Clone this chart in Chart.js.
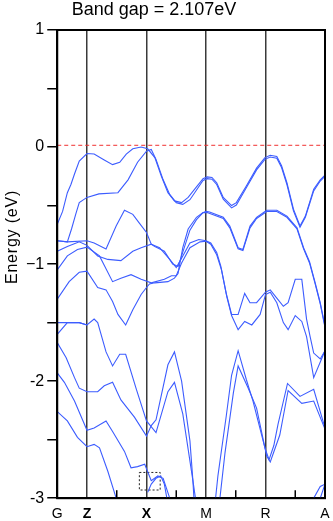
<!DOCTYPE html>
<html>
<head>
<meta charset="utf-8">
<script src="https://cdn.jsdelivr.net/npm/chart.js@4.4.0/dist/chart.umd.min.js"></script>
<style>
  html, body { margin: 0; padding: 0; background: #fff; }
  canvas { display: block; }
</style>
</head>
<body>
<canvas id="bandas" width="333" height="521"></canvas>
<script>
// Ejes: puntos k de alta simetría y energías
const kTicks = [0, 0.5, 1, 1.5, 2, 2.5, 3, 3.5, 4, 4.5];
const kLabels = ['G', 'Z', '', 'X', '', 'M', '', 'R', '', 'A'];
const kBold = ['Z', 'X'];
const eTicks = [1, 0.5, 0, -0.5, -1, -1.5, -2, -2.5, -3];
const eLabels = ['1', '', '0', '', '\u22121', '', '-2', '', '-3'];
const titulo = 'Band gap = 2.107eV';
const tituloY = 'Energy (eV)';
const fermi = 0.015;
const cajaK = [1.38, 1.73];
const cajaE = [-2.78, -2.93];

// Bandas [k, E]
const vb1 = [[0,-0.66],[0.09,-0.55],[0.17,-0.39],[0.23,-0.32],[0.29,-0.23],[0.37,-0.12],[0.5,-0.055],[0.62,-0.06],[0.79,-0.11],[0.93,-0.15],[1.05,-0.13],[1.16,-0.06],[1.27,-0.015],[1.41,0],[1.52,-0.015],[1.64,-0.09],[1.75,-0.25],[1.86,-0.39],[1.97,-0.46],[2.09,-0.475],[2.2,-0.43],[2.31,-0.36],[2.45,-0.27],[2.52,-0.255],[2.6,-0.26],[2.68,-0.305],[2.79,-0.43],[2.93,-0.5],[3.01,-0.475],[3.18,-0.33],[3.35,-0.18],[3.49,-0.09],[3.58,-0.07],[3.69,-0.08],[3.77,-0.16],[3.86,-0.305],[3.97,-0.53],[4.08,-0.675],[4.17,-0.59],[4.31,-0.36],[4.42,-0.28],[4.5,-0.24]];
const vb2 = [[0,-0.8],[0.17,-0.81],[0.24,-0.7],[0.31,-0.575],[0.37,-0.475],[0.5,-0.43],[0.7,-0.4],[1.02,-0.39],[1.19,-0.28],[1.35,-0.13],[1.5,-0.035],[1.58,-0.02],[1.66,-0.105],[1.78,-0.28],[1.89,-0.405],[2,-0.475],[2.11,-0.49],[2.23,-0.45],[2.31,-0.39],[2.45,-0.285],[2.52,-0.27],[2.6,-0.275],[2.68,-0.32],[2.79,-0.445],[2.93,-0.52],[3.01,-0.495],[3.18,-0.345],[3.35,-0.195],[3.49,-0.105],[3.58,-0.085],[3.69,-0.095],[3.77,-0.175],[3.86,-0.32],[3.97,-0.545],[4.08,-0.685],[4.17,-0.6],[4.31,-0.375],[4.42,-0.29],[4.5,-0.25]];
const b3 = [[0,-0.8],[0.17,-0.81],[0.5,-0.8],[0.62,-0.82],[0.82,-0.87],[0.99,-0.675],[1.13,-0.54],[1.27,-0.575],[1.38,-0.65],[1.5,-0.73],[1.58,-0.83],[1.72,-0.86],[1.89,-0.96],[2,-1.03],[2.09,-0.95],[2.23,-0.82],[2.38,-0.79],[2.5,-0.8],[2.58,-0.82],[2.68,-0.9],[2.75,-1.02],[2.84,-1.25],[2.93,-1.43],[3.04,-1.43],[3.15,-1.25],[3.24,-1.33],[3.35,-1.33],[3.5,-1.24],[3.58,-1.22],[3.69,-1.29],[3.8,-1.36],[3.88,-1.33],[4,-1.13],[4.11,-1.13],[4.19,-1.47],[4.25,-1.62],[4.31,-1.76],[4.42,-1.81],[4.5,-1.74]];
const b4 = [[0,-0.89],[0.17,-0.85],[0.37,-0.81],[0.5,-0.84],[0.68,-0.93],[0.85,-0.96],[1.07,-0.97],[1.27,-0.89],[1.41,-0.86],[1.58,-0.83],[1.64,-0.85],[1.8,-0.89],[1.94,-1],[2.03,-1.02],[2.09,-0.93],[2.23,-0.71],[2.34,-0.62],[2.45,-0.56],[2.5,-0.55],[2.56,-0.555],[2.79,-0.6],[2.9,-0.675],[3.04,-0.86],[3.12,-0.875],[3.24,-0.675],[3.35,-0.6],[3.52,-0.54],[3.69,-0.54],[3.86,-0.59],[4.03,-0.69],[4.14,-0.86],[4.24,-0.98],[4.33,-1.15],[4.42,-1.33],[4.5,-1.53]];
const b5 = [[0,-1.05],[0.17,-0.93],[0.34,-0.875],[0.5,-0.855],[0.71,-0.93],[0.93,-1.15],[1.07,-1.12],[1.24,-1.09],[1.41,-1.13],[1.58,-1.16],[1.8,-1.13],[1.92,-1.1],[2,-1.1],[2.09,-0.99],[2.23,-0.86],[2.4,-0.81],[2.5,-0.805],[2.58,-0.83],[2.68,-0.92],[2.76,-1.05],[2.85,-1.28],[2.93,-1.44],[3.04,-1.56],[3.15,-1.49],[3.27,-1.52],[3.41,-1.43],[3.5,-1.26],[3.58,-1.24],[3.69,-1.33],[3.8,-1.5],[3.88,-1.56],[4,-1.44],[4.11,-1.49],[4.19,-1.62],[4.31,-1.97],[4.5,-1.74]];
const b6 = [[0,-1.3],[0.2,-1.15],[0.37,-1.07],[0.5,-1.06],[0.68,-1.2],[0.82,-1.22],[0.93,-1.32],[1.02,-1.43],[1.15,-1.52],[1.27,-1.39],[1.41,-1.26],[1.5,-1.2],[1.55,-1.17],[1.64,-1.16],[1.86,-1.15],[1.97,-1.12],[2.03,-1.08],[2.11,-0.86],[2.2,-0.7],[2.34,-0.6],[2.45,-0.56],[2.52,-0.56],[2.79,-0.61],[2.9,-0.69],[3.04,-0.87],[3.12,-0.885],[3.24,-0.69],[3.35,-0.61],[3.52,-0.55],[3.69,-0.55],[3.86,-0.6],[4.03,-0.7],[4.14,-0.87],[4.24,-0.99],[4.33,-1.16],[4.42,-1.34],[4.5,-1.54]];
const b7 = [[0,-1.5],[0.17,-1.5],[0.37,-1.5],[0.5,-1.52],[0.62,-1.47],[0.68,-1.5],[0.82,-1.75],[0.93,-1.87],[1.05,-1.77],[1.15,-1.77],[1.33,-2.07],[1.5,-2.34],[1.66,-2.44],[1.86,-2.09],[1.97,-2.01],[2.11,-2.28],[2.28,-2.85],[2.38,-3.2]];
const b8 = [[0,-1.6],[0.17,-1.5],[0.37,-1.5],[0.5,-1.52]];
const b9 = [[0,-1.67],[0.15,-1.8],[0.29,-1.97],[0.37,-2.06],[0.5,-2.09],[0.68,-2.09],[0.79,-2.04],[0.93,-2.01],[1.07,-2.16],[1.3,-2.31],[1.5,-2.47],[1.58,-2.38],[1.66,-2.33],[1.86,-1.86],[1.97,-1.75],[2.09,-2],[2.23,-2.51],[2.28,-2.85],[2.32,-3.2]];
const b10 = [[0,-1.93],[0.12,-2.01],[0.29,-2.17],[0.5,-2.42],[0.62,-2.4],[0.82,-2.34],[0.93,-2.43],[1.13,-2.6],[1.24,-2.74],[1.35,-2.73],[1.47,-2.71],[1.58,-2.85],[1.69,-2.81],[1.78,-2.83],[1.89,-3],[1.93,-3.2]];
const b11 = [[1.52,-2.95],[1.58,-2.88],[1.66,-2.83],[1.74,-2.81],[1.8,-2.88],[1.86,-3.05]];
const b12 = [[0,-2.26],[0.17,-2.34],[0.34,-2.48],[0.5,-2.56],[0.62,-2.54],[0.71,-2.57],[0.85,-2.77],[0.99,-3],[1.05,-3.2]];
const b13 = [[2.62,-3.2],[2.7,-2.81],[2.84,-2.3],[2.93,-1.95],[3.04,-1.74],[3.18,-1.99],[3.29,-2.17],[3.49,-2.57],[3.56,-2.67],[3.64,-2.55],[3.71,-2.37],[3.87,-2.02],[4.08,-2.13],[4.31,-2.07],[4.5,-2.4]];
const b14 = [[2.69,-3.2],[2.82,-2.61],[2.96,-2.1],[3.04,-1.87],[3.21,-2.06],[3.35,-2.23],[3.52,-2.64],[3.58,-2.69],[3.74,-2.46],[3.88,-2.08],[4.11,-2.19],[4.31,-2.17],[4.5,-2.41]];
const b15 = [[4.26,-3.2],[4.31,-3],[4.42,-2.9],[4.5,-2.88]];
const b16 = [[4.38,-3.2],[4.42,-3],[4.5,-2.88]];
const bandas = [vb1, vb2, b3, b4, b5, b6, b7, b8, b9, b10, b11, b12, b13, b14, b15, b16];

const azul = '#3c5cff';
const fuente = 'Liberation Sans, Arial, sans-serif';

const datasets = bandas.map(b => ({
    data: b.map(p => ({ x: p[0], y: p[1] })),
    showLine: true,
    borderColor: azul,
    borderWidth: 1.1,
    pointRadius: 0,
    tension: 0
}));

// Nivel de Fermi (línea roja discontinua)
datasets.push({
    data: [{ x: kTicks[0], y: fermi }, { x: kTicks[kTicks.length - 1], y: fermi }],
    showLine: true,
    borderColor: '#f03030',
    borderWidth: 1,
    borderDash: [4, 3],
    pointRadius: 0
});

// Recuadro punteado
datasets.push({
    data: [
        { x: cajaK[0], y: cajaE[0] }, { x: cajaK[1], y: cajaE[0] },
        { x: cajaK[1], y: cajaE[1] }, { x: cajaK[0], y: cajaE[1] },
        { x: cajaK[0], y: cajaE[0] }
    ],
    showLine: true,
    borderColor: '#222',
    borderWidth: 1,
    borderDash: [2, 2],
    pointRadius: 0,
    tension: 0
});

const extras = {
    id: 'extras',
    afterDraw(chart) {
        const { ctx, chartArea: a, scales } = chart;
        ctx.save();
        // marcas interiores del eje k
        ctx.strokeStyle = '#000';
        ctx.lineWidth = 1.5;
        kTicks.forEach((k, i) => {
            if (kLabels[i] !== '') return;
            const px = scales.x.getPixelForValue(k);
            ctx.beginPath();
            ctx.moveTo(px, a.bottom);
            ctx.lineTo(px, a.bottom - 8);
            ctx.stroke();
        });
        // marco
        ctx.lineWidth = 2;
        ctx.strokeRect(a.left, a.top, a.right - a.left, a.bottom - a.top);
        // título
        ctx.fillStyle = '#000';
        ctx.font = '18px ' + fuente;
        ctx.textAlign = 'center';
        ctx.textBaseline = 'alphabetic';
        ctx.fillText(titulo, 154, 15);
        // título del eje y
        ctx.translate(17, 237);
        ctx.rotate(-Math.PI / 2);
        ctx.font = '16px ' + fuente;
        ctx.letterSpacing = '0.8px';
        ctx.fillText(tituloY, 0, 0);
        ctx.restore();
    }
};

new Chart(document.getElementById('bandas').getContext('2d'), {
    type: 'scatter',
    data: { datasets },
    options: {
        responsive: false,
        animation: false,
        devicePixelRatio: 1,
        layout: { padding: { left: 23, top: 30, right: 8, bottom: -10 } },
        plugins: { legend: { display: false }, tooltip: { enabled: false } },
        scales: {
            x: {
                type: 'linear',
                min: kTicks[0],
                max: kTicks[kTicks.length - 1],
                afterBuildTicks: s => { s.ticks = kTicks.map(v => ({ value: v })); },
                afterFit: s => { s.paddingLeft = 0; s.paddingRight = 0; },
                ticks: {
                    autoSkip: false,
                    maxRotation: 0,
                    padding: 8,
                    color: '#000',
                    callback: v => kLabels[kTicks.indexOf(v)] ?? '',
                    font: c => ({
                        family: fuente,
                        size: 14,
                        weight: kBold.includes(kLabels[c.index]) ? 'bold' : 'normal'
                    })
                },
                grid: {
                    drawTicks: false,
                    lineWidth: 1.5,
                    color: c => (c.tick && kLabels[kTicks.indexOf(c.tick.value)]) ? '#3a3a3a' : 'rgba(0,0,0,0)'
                },
                border: { color: '#000', width: 2 }
            },
            y: {
                type: 'linear',
                min: eTicks[eTicks.length - 1],
                max: eTicks[0],
                afterBuildTicks: s => { s.ticks = eTicks.map(v => ({ value: v })); },
                ticks: {
                    autoSkip: false,
                    padding: 3,
                    color: '#000',
                    font: { family: fuente, size: 16 },
                    callback: v => eLabels[eTicks.indexOf(v)] ?? ''
                },
                grid: { drawOnChartArea: false, drawTicks: true, tickLength: 10, color: '#000', lineWidth: 1.5 },
                border: { color: '#000', width: 2 }
            }
        }
    },
    plugins: [extras]
});
</script>
</body>
</html>
